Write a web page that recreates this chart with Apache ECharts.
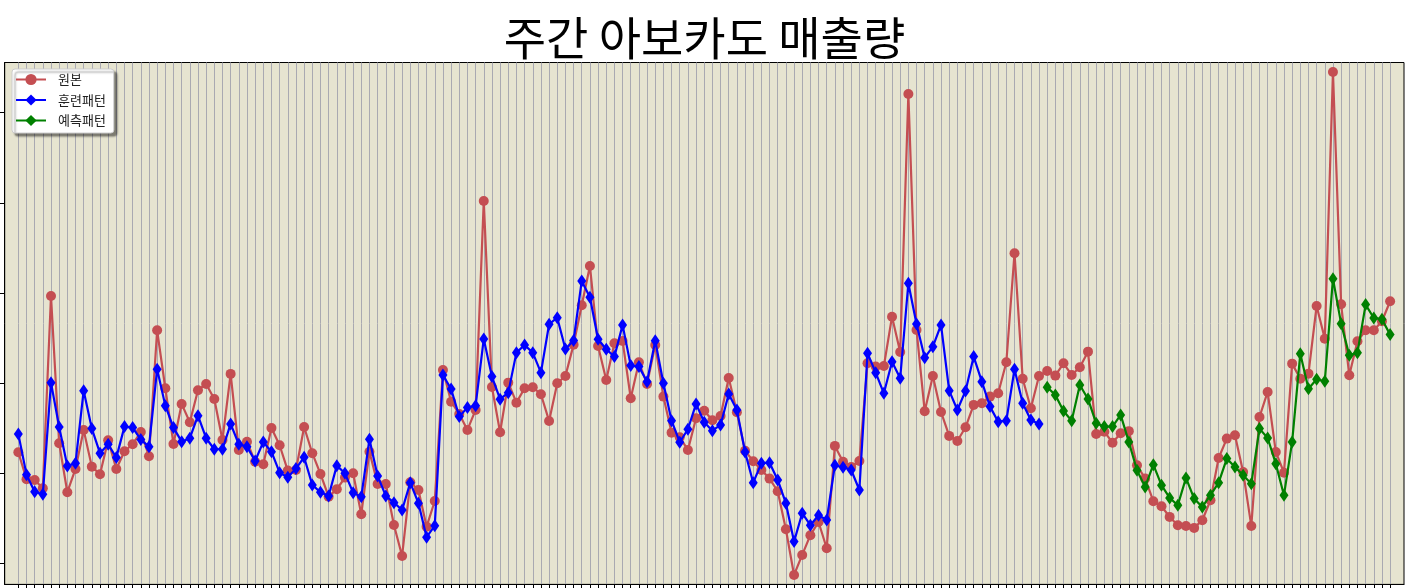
<!DOCTYPE html>
<html>
<head>
<meta charset="utf-8">
<script src="https://cdn.jsdelivr.net/npm/echarts@6/dist/echarts.min.js"></script>
<style>
html,body{margin:0;padding:0;background:#fff;}
#chart{width:1409px;height:588px;}
</style>
</head>
<body>
<div id="chart"></div>
<script>
// Weekly avocado sales (standardised units)
const original = [
 -0.768,-1.068,-1.076,-1.168,0.966,-0.668,-1.212,-0.954,-0.521,-0.928,
 -1.012,-0.635,-0.954,-0.757,-0.680,-0.543,-0.813,0.585,-0.058,-0.676,
 -0.232,-0.435,-0.080,-0.010,-0.177,-0.632,0.101,-0.743,-0.651,-0.873,
 -0.901,-0.499,-0.691,-0.972,-0.965,-0.488,-0.779,-1.009,-1.261,-1.179,
 -1.050,-1.001,-1.456,-0.762,-1.120,-1.120,-1.575,-1.919,-1.101,-1.187,
 -1.594,-1.309,0.145,-0.207,-0.343,-0.521,-0.299,2.020,-0.044,-0.546,
 0.004,-0.218,-0.058,-0.047,-0.125,-0.421,-0.003,0.078,0.426,0.863,
 1.299,0.411,0.034,0.441,0.467,-0.169,0.230,-0.010,0.422,-0.151,
 -0.551,-0.602,-0.743,-0.391,-0.307,-0.413,-0.366,0.056,-0.324,-0.751,
 -0.868,-0.965,-1.061,-1.201,-1.623,-2.130,-1.908,-1.689,-1.542,-1.834,
 -0.698,-0.873,-0.931,-0.865,0.219,0.182,0.189,0.736,0.345,3.208,
 0.589,-0.313,0.078,-0.321,-0.587,-0.643,-0.491,-0.243,-0.225,-0.151,
 -0.114,0.230,1.440,0.048,-0.280,0.078,0.134,0.082,0.219,0.089,
 0.175,0.348,-0.565,-0.540,-0.662,-0.557,-0.534,-0.913,-1.061,-1.312,
 -1.368,-1.486,-1.578,-1.586,-1.608,-1.523,-1.301,-0.832,-0.617,-0.580,
 -0.987,-1.586,-0.377,-0.099,-0.765,-0.995,0.215,0.048,0.104,0.855,
 0.492,3.452,0.874,0.086,0.463,0.585,0.585,0.685,0.907
];
const trainPattern = [
 -0.565,-1.017,-1.206,-1.234,0.004,-0.488,-0.920,-0.890,-0.085,-0.506,
 -0.779,-0.680,-0.828,-0.484,-0.495,-0.628,-0.706,0.153,-0.251,-0.495,
 -0.651,-0.613,-0.362,-0.613,-0.735,-0.735,-0.454,-0.680,-0.706,-0.865,
 -0.654,-0.762,-0.995,-1.046,-0.950,-0.824,-1.131,-1.212,-1.253,-0.917,
 -1.001,-1.217,-1.261,-0.624,-1.031,-1.253,-1.328,-1.409,-1.106,-1.334,
 -1.711,-1.583,0.089,-0.066,-0.373,-0.273,-0.251,0.489,0.071,-0.180,
 -0.107,0.337,0.422,0.337,0.115,0.652,0.725,0.378,0.472,1.133,
 0.952,0.486,0.375,0.293,0.644,0.193,0.182,0.015,0.470,-0.003,
 -0.418,-0.657,-0.513,-0.232,-0.435,-0.529,-0.465,-0.121,-0.299,-0.765,
 -1.106,-0.890,-0.884,-1.076,-1.334,-1.760,-1.445,-1.578,-1.467,-1.520,
 -0.913,-0.935,-0.965,-1.187,0.330,0.115,-0.114,0.237,0.053,1.107,
 0.655,0.281,0.403,0.644,-0.085,-0.299,-0.088,0.293,0.015,-0.262,
 -0.429,-0.418,0.153,-0.225,-0.410,-0.454
];
const predictPattern = [
 -0.047,-0.132,-0.310,-0.418,-0.022,-0.177,-0.447,-0.484,-0.484,-0.354,
 -0.654,-0.968,-1.153,-0.906,-1.134,-1.275,-1.356,-1.053,-1.283,-1.375,
 -1.245,-1.106,-0.839,-0.931,-1.024,-1.117,-0.506,-0.610,-0.895,-1.245,
 -0.654,0.326,-0.063,0.042,0.020,1.158,0.659,0.308,0.337,0.870,
 0.722,0.708,0.537
];
const yTickValues = [-2, -1, 0, 1, 2, 3];
const legendNames = ['원본', '훈련패턴', '예측패턴'];

const weekIndex = original.map((_, i) => i);
const originalData = original.map((v, i) => [i, v]);
const trainData = trainPattern.map((v, i) => [i, v]);
const predictStart = trainPattern.length;
const predictData = predictPattern.map((v, i) => [predictStart + i, v]);

const chart = echarts.init(document.getElementById('chart'), null, {renderer: 'canvas'});
const font = '"Noto Sans CJK KR", "Noto Sans", sans-serif';

chart.setOption({
  animation: false,
  backgroundColor: '#ffffff',
  title: {
    text: '주간 아보카도 매출량',
    left: 'center',
    top: 10,
    textStyle: {fontFamily: font, fontSize: 46, fontWeight: 'normal', color: '#000'}
  },
  legend: {
    data: legendNames,
    orient: 'vertical',
    left: 12,
    top: 69,
    itemWidth: 30,
    itemHeight: 14,
    itemGap: 7.5,
    padding: [4, 8, 6, 3],
    backgroundColor: '#ffffff',
    borderColor: '#cccccc',
    borderWidth: 1,
    borderRadius: 3,
    shadowColor: 'rgba(0,0,0,0.45)',
    shadowBlur: 2,
    shadowOffsetX: 3,
    shadowOffsetY: 3,
    textStyle: {fontFamily: font, fontSize: 13, color: '#222', padding: [0, 0, 0, 7]}
  },
  grid: {
    left: 4.7,
    right: 5,
    top: 62.5,
    bottom: 3.6,
    show: true,
    backgroundColor: '#e6e4d0',
    borderColor: '#000',
    borderWidth: 1
  },
  xAxis: {
    type: 'value',
    min: -1.67,
    max: weekIndex.length - 1 + 1.7,
    axisLine: {show: true, onZero: false, lineStyle: {color: '#000', width: 1}},
    axisTick: {show: true, customValues: weekIndex, length: 4, lineStyle: {color: '#000'}},
    axisLabel: {show: false},
    splitLine: {show: true, lineStyle: {color: '#a9a9b1', width: 1}}
  },
  yAxis: {
    type: 'value',
    min: -2.235,
    max: 3.557,
    axisLine: {show: true, onZero: false, lineStyle: {color: '#000', width: 1}},
    axisTick: {show: true, customValues: yTickValues, length: 5, lineStyle: {color: '#000'}},
    axisLabel: {show: false},
    splitLine: {show: false}
  },
  series: [
    {
      name: legendNames[0],
      type: 'line',
      data: originalData,
      symbol: 'circle',
      symbolSize: 10,
      showAllSymbol: true,
      itemStyle: {color: '#c44e52'},
      lineStyle: {color: '#c44e52', width: 2.2},
      z: 2
    },
    {
      name: legendNames[1],
      type: 'line',
      data: trainData,
      symbol: 'diamond',
      symbolSize: [9, 13],
      showAllSymbol: true,
      itemStyle: {color: '#0000ff'},
      lineStyle: {color: '#0000ff', width: 2.2},
      z: 3
    },
    {
      name: legendNames[2],
      type: 'line',
      data: predictData,
      symbol: 'diamond',
      symbolSize: [9, 13],
      showAllSymbol: true,
      itemStyle: {color: '#008000'},
      lineStyle: {color: '#008000', width: 2.2},
      z: 3
    }
  ]
});
</script>
</body>
</html>
